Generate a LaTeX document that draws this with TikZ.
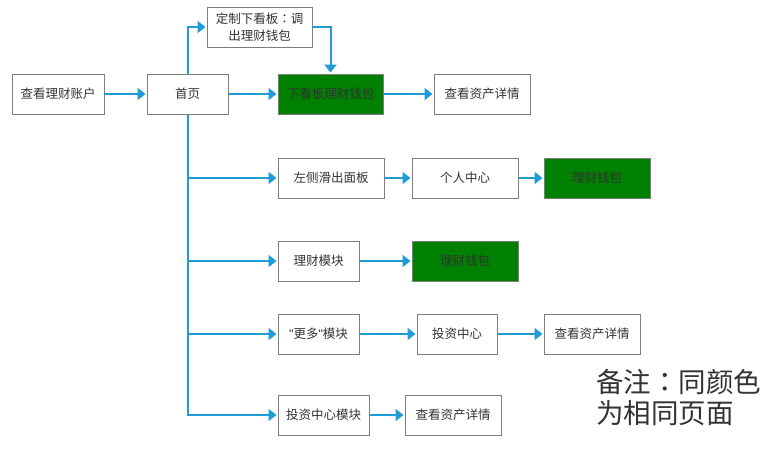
\documentclass[tikz,border=0pt]{standalone}
\usepackage{fontspec}
\setmainfont{Noto Sans CJK SC}
\newfontfamily\tcfont{Noto Sans CJK TC}
\newfontfamily\latinq{Liberation Sans}
\usetikzlibrary{arrows.meta}
\definecolor{arrowblue}{RGB}{31,156,214}
\definecolor{boxgray}{RGB}{125,125,125}
\definecolor{textgray}{RGB}{51,51,51}
\definecolor{pagegreen}{RGB}{0,128,0}
\newcommand{\ccolon}{{\tcfont ：}}
\tikzset{
  flowbox/.style={draw=boxgray, line width=1pt, minimum height=40pt, inner sep=0pt,
    text=textgray, font=\fontsize{12.5}{15}\selectfont, fill=white},
  greenbox/.style={flowbox, fill=pagegreen},
  flowarrow/.style={draw=arrowblue, line width=2pt, -{Triangle[length=8pt,width=12pt]}, shorten >=1pt},
}
\begin{document}
\begin{tikzpicture}[x=1pt,y=-1pt]
\useasboundingbox (0,0) rectangle (773,461);
\node[flowbox, minimum width=92pt] (a) at (58,94) {查看理财账户};
\node[flowbox, minimum width=81pt] (b) at (187.5,94) {首页};
\node[flowbox, minimum width=105pt, align=center, font=\fontsize{12.5}{17}\selectfont] (c) at (259.5,27) {定制下看板\ccolon 调\\出理财钱包};
\node[greenbox, minimum width=105pt] (d) at (330.5,94) {下看板理财钱包};
\node[flowbox, minimum width=96pt] (e) at (482,94) {查看资产详情};
\node[flowbox, minimum width=106pt] (f) at (331,178) {左侧滑出面板};
\node[flowbox, minimum width=106pt] (g) at (465,178) {个人中心};
\node[greenbox, minimum width=106pt] (h) at (597,178) {理财钱包};
\node[flowbox, minimum width=81pt] (i) at (318.5,261) {理财模块};
\node[greenbox, minimum width=106pt] (j) at (465,261) {理财钱包};
\node[flowbox, minimum width=81pt] (k) at (318.5,334) {{\latinq"}更多{\latinq"}模块};
\node[flowbox, minimum width=80pt] (l) at (457,334) {投资中心};
\node[flowbox, minimum width=96pt] (m) at (592,334) {查看资产详情};
\node[flowbox, minimum width=91pt] (n) at (323.5,415) {投资中心模块};
\node[flowbox, minimum width=96pt] (o) at (453,415) {查看资产详情};
\node[anchor=north west, align=left, inner sep=0pt, text=textgray,
  font=\fontsize{27.5}{31}\selectfont] (note) at (596,369) {备注\ccolon 同颜色\\为相同页面};
\draw[flowarrow] (a) -- (b);
\draw[flowarrow] (b) -- (d);
\draw[flowarrow] (d) -- (e);
\draw[flowarrow] (b.north) |- (c.west);
\draw[flowarrow] (c.east) -| (d.north);
\draw[flowarrow] (b.south) |- (f.west);
\draw[flowarrow] (b.south) |- (i.west);
\draw[flowarrow] (b.south) |- (k.west);
\draw[flowarrow] (b.south) |- (n.west);
\draw[flowarrow] (f) -- (g);
\draw[flowarrow] (g) -- (h);
\draw[flowarrow] (i) -- (j);
\draw[flowarrow] (k) -- (l);
\draw[flowarrow] (l) -- (m);
\draw[flowarrow] (n) -- (o);
\end{tikzpicture}
\end{document}
